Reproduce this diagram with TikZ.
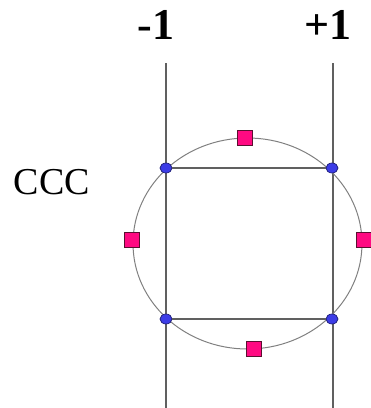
\documentclass[tikz,border=0pt]{standalone}
\usepackage{fontspec}
\setmainfont{Liberation Serif}
\usetikzlibrary{shapes.geometric}
\definecolor{pinkfill}{HTML}{FF0A82}
\definecolor{pinkedge}{HTML}{5A1030}
\definecolor{bluefill}{HTML}{3C3CE6}
\definecolor{blueedge}{HTML}{20207A}
\definecolor{linegray}{HTML}{606060}
\begin{document}
\begin{tikzpicture}[x=1pt,y=-1pt,
  vline/.style={draw=linegray, line width=1.3pt},
  ring/.style={draw=gray, line width=1pt},
  bdot/.style={ellipse, draw=blueedge, fill=bluefill, line width=0.7pt, minimum width=12pt, minimum height=10pt, inner sep=0pt},
  psq/.style={rectangle, draw=pinkedge, fill=pinkfill, line width=1pt, minimum size=15pt, inner sep=0pt},
  lbl/.style={font=\fontsize{44}{48}\selectfont\bfseries, inner sep=0pt, anchor=base},
  side/.style={font=\fontsize{38}{42}\selectfont, inner sep=0pt, anchor=base}]
\useasboundingbox (0,0) rectangle (371,408);
% vertical lines
\coordinate (lt) at (166,63);
\coordinate (lb) at (166,408);
\coordinate (rt) at (333,63);
\coordinate (rb) at (333,408);
\draw[vline] (lt) -- (lb);
\draw[vline] (rt) -- (rb);
% ring
\node[ring, ellipse, minimum width=229pt, minimum height=211pt, inner sep=0pt] (ring) at (247.5,243.5) {};
% blue dots
\node[bdot] (tl) at (166,168) {};
\node[bdot] (tr) at (332,168) {};
\node[bdot] (bl) at (166,319) {};
\node[bdot] (br) at (332,319) {};
\draw[vline] (tl) -- (tr);
\draw[vline] (bl) -- (br);
% pink squares
\node[psq] (sqt) at (245,138) {};
\node[psq] (sqb) at (254,349) {};
\node[psq] (sql) at (132,240) {};
\node[psq] (sqr) at (364,240) {};
% labels
\node[lbl] (m1) at (156,39) {-1};
\node[lbl] (p1) at (328,39) {+1};
\node[side] (ccc) at (52,194) {CCC};
\end{tikzpicture}
\end{document}
